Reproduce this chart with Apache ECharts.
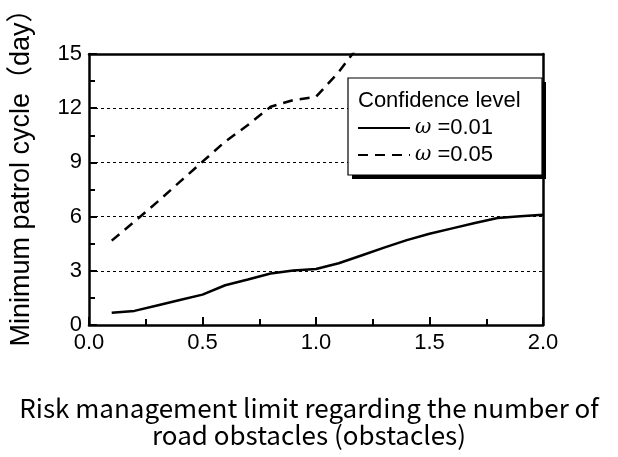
<!DOCTYPE html>
<html>
<head>
<meta charset="utf-8">
<script src="https://cdn.jsdelivr.net/npm/echarts@6/dist/echarts.min.js"></script>
<style>html,body{margin:0;padding:0;background:#fff}#c{width:618px;height:457px}</style>
</head>
<body>
<div id="c"></div>
<script>
// Data
const xValues = [0.1, 0.2, 0.3, 0.4, 0.5, 0.6, 0.7, 0.8, 0.9, 1.0, 1.1, 1.2, 1.3, 1.4, 1.5, 1.6, 1.7, 1.8, 1.9, 2.0];
const omega001 = [0.68, 0.78, 1.08, 1.38, 1.68, 2.2, 2.52, 2.85, 3.02, 3.1, 3.42, 3.85, 4.28, 4.7, 5.05, 5.35, 5.65, 5.92, 6.02, 6.1];
const omega005x = [0.1, 0.2, 0.3, 0.4, 0.5, 0.6, 0.7, 0.8, 0.9, 1.0, 1.1, 1.2];
const omega005 = [4.67, 5.72, 6.8, 7.92, 9.04, 10.15, 11.07, 12.08, 12.45, 12.63, 14.0, 15.65];
const seriesNames = ['0.01', '0.05'];
const yTicks = [0, 3, 6, 9, 12, 15];
const xAxisName = 'Risk management limit regarding the number of\nroad obstacles (obstacles)';
const yAxisName = 'Minimum patrol cycle\uFF08day\uFF09';
const legendTitle = 'Confidence level';

const chart = echarts.init(document.getElementById('c'), null, {renderer: 'canvas'});
const sansFont = '"Liberation Sans", Arial, "Noto Sans CJK JP", sans-serif';
const frameAxis = {
  show: true, axisLine: {show: true, onZero: false, lineStyle: {color: '#000', width: 2.5}},
  axisTick: {show: false}, minorTick: {show: false}, axisLabel: {show: false}, splitLine: {show: false}
};
const option = {
  animation: false,
  grid: {left: 89, right: 75, top: 54, bottom: 132, containLabel: false, outerBoundsMode: 'none'},
  xAxis: [{
    type: 'value', min: 0, max: 2, interval: 0.5, position: 'bottom',
    name: xAxisName, nameLocation: 'middle', nameGap: 70,
    nameTextStyle: {fontFamily: '"Noto Sans CJK JP", sans-serif', fontSize: 26, color: '#000', lineHeight: 27, padding: [0, 14, 0, 0]},
    axisLine: {show: true, onZero: false, lineStyle: {color: '#000', width: 2.5}},
    axisTick: {show: true, inside: true, length: 8, lineStyle: {color: '#000', width: 2}},
    minorTick: {show: true, splitNumber: 2, length: 6, lineStyle: {color: '#000', width: 2}},
    axisLabel: {color: '#000', fontFamily: sansFont, fontSize: 22, margin: 7, formatter: v => v.toFixed(1)},
    splitLine: {show: false}
  }, Object.assign({type: 'value', min: 0, max: 2, position: 'top'}, frameAxis)],
  yAxis: [{
    type: 'value', min: 0, max: 15, interval: 3, position: 'left',
    name: yAxisName, nameLocation: 'middle', nameGap: 54,
    nameTextStyle: {fontFamily: sansFont, fontSize: 27, color: '#000', padding: [0, 0, 0, 37]},
    axisLine: {show: true, onZero: false, lineStyle: {color: '#000', width: 2.5}},
    axisTick: {show: true, inside: true, length: 8, lineStyle: {color: '#000', width: 2}},
    minorTick: {show: true, splitNumber: 2, length: 6, lineStyle: {color: '#000', width: 2}},
    axisLabel: {color: '#000', fontFamily: sansFont, fontSize: 22, margin: 7,
      formatter: v => yTicks.includes(v) ? String(v) : ''},
    splitLine: {show: true, lineStyle: {color: '#000', width: 1, type: [3, 3]}}
  }, Object.assign({type: 'value', min: 0, max: 15, position: 'right'}, frameAxis)],
  legend: {
    orient: 'vertical', left: 352, top: 112, itemGap: 5, itemWidth: 52, itemHeight: 23, z: 20,
    data: seriesNames,
    itemStyle: {opacity: 0},
    formatter: n => '{w|\u03C9} =' + n,
    textStyle: {color: '#000', fontFamily: sansFont, fontSize: 22,
      rich: {w: {fontFamily: '"DejaVu Serif", "Liberation Serif", serif', fontStyle: 'italic', fontSize: 20, color: '#000'}}}
  },
  graphic: [
    {type: 'rect', z: 9, shape: {x: 352, y: 82, width: 194, height: 97}, style: {fill: '#000'}},
    {type: 'rect', z: 10, shape: {x: 348, y: 78, width: 194, height: 97},
      style: {fill: '#fff', stroke: '#000', lineWidth: 1.2}},
    {type: 'text', z: 21, left: 358, top: 90,
      style: {text: legendTitle, fill: '#000', font: '22px "Liberation Sans", Arial, sans-serif'}}
  ],
  series: [
    {name: seriesNames[0], type: 'line', symbol: 'none', z: 3, xAxisIndex: 0, yAxisIndex: 0,
      data: xValues.map((x, i) => [x, omega001[i]]),
      lineStyle: {color: '#000', width: 2.5, type: 'solid'}, itemStyle: {color: '#000'}},
    {name: seriesNames[1], type: 'line', symbol: 'none', z: 3, clip: true, xAxisIndex: 0, yAxisIndex: 0,
      data: omega005x.map((x, i) => [x, omega005[i]]),
      lineStyle: {color: '#000', width: 2.5, type: [10, 7]}, itemStyle: {color: '#000'}}
  ]
};
chart.setOption(option);
</script>
</body>
</html>
